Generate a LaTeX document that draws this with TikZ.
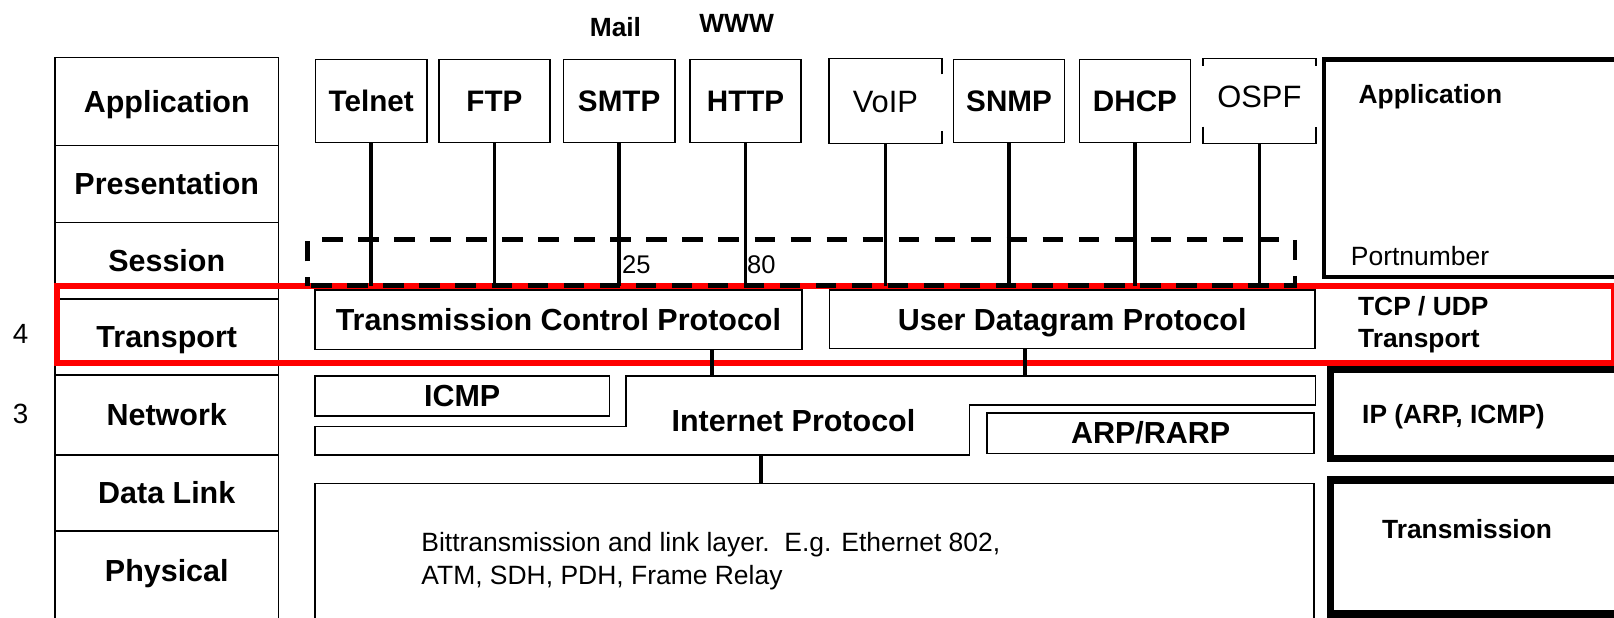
\documentclass[tikz,border=0pt]{standalone}
\usepackage{fontspec}
\setmainfont{Liberation Sans}
\usepackage{tikz}

\newcommand\labfont{\fontsize{14.8pt}{17pt}\selectfont\bfseries}
\newcommand\appfont{\fontsize{14.4pt}{17pt}\selectfont\bfseries}
\newcommand\appthin{\fontsize{15pt}{17pt}\selectfont}
\newcommand\sidefont{\fontsize{12.8pt}{15.7pt}\selectfont\bfseries}
\newcommand\plainfont{\fontsize{12.85pt}{15.7pt}\selectfont}
\newcommand\numfont{\fontsize{12.4pt}{15pt}\selectfont}
\newcommand\layfont{\fontsize{13.5pt}{16pt}\selectfont}

\tikzset{
  boxline/.style={line width=0.8pt},
  osibox/.style={draw, boxline, inner sep=0pt, minimum width=108.45pt,
    font=\labfont, text height=10.6pt, text depth=0pt},
  appbox/.style={draw, boxline, inner sep=0pt, minimum width=54pt,
    minimum height=40.45pt, font=\appfont, text height=10.3pt, text depth=0pt},
  protobox/.style={draw, boxline, inner sep=0pt, font=\labfont,
    text height=10.6pt, text depth=0pt},
  sidebox/.style={draw, inner sep=0pt, minimum width=148.75pt},
  portline/.style={line width=1.75pt},
  joint/.style={line width=2pt},
  txt/.style={inner sep=0pt},
}

\begin{document}
\begin{tikzpicture}[x=0.5pt, y=-0.5pt]
  \useasboundingbox (0,0) rectangle (1568,600);

  % OSI layers
  \node[osibox, minimum height=42.75pt] (app) at (162,98.45) {Application};
  \node[osibox, minimum height=37.4pt] (pres) at (162,178.6) {Presentation};
  \node[osibox, minimum height=37.25pt] (sess) at (162,253.25) {Session};
  \node[osibox, minimum height=36.75pt] (trans) at (162,327.25) {Transport};
  \node[osibox, minimum height=39pt] (net) at (162,403) {Network};
  \node[osibox, minimum height=36.8pt] (dlink) at (162,478.8) {Data Link};
  \node[osibox, minimum height=45.2pt, text depth=6pt] (phys) at (162,560.8) {Physical};

  \node[txt, font=\layfont, anchor=base] (lay4) at (20,333.6) {4};
  \node[txt, font=\layfont, anchor=base] (lay3) at (20,411.3) {3};

  % transport frame
  \draw[red, line width=3pt] (55.5,277.5) rectangle (1568,352.7);

  % application protocols
  \node[txt, font=\sidefont, anchor=base west] (mail) at (572.6,35) {Mail};
  \node[txt, font=\sidefont, anchor=base west] (www) at (679,31.4) {WWW};

  \node[appbox] (telnet) at (360.6,98.15) {Telnet};
  \node[appbox] (ftp) at (480.3,98.15) {FTP};
  \node[appbox] (smtp) at (601.5,98.15) {SMTP};
  \node[appbox] (http) at (724.3,98.15) {HTTP};
  \node[appbox, draw=none, font=\appthin, text height=10.7pt] (voip) at (860.2,98.15) {VoIP};
  \node[appbox] (snmp) at (980.3,98.15) {SNMP};
  \node[appbox] (dhcp) at (1102.6,98.15) {DHCP};
  \node[appbox, draw=none, font=\appthin, text height=10.7pt, text depth=4pt] (ospf) at (1223.5,98.15) {OSPF};

  % broken edges
  \draw[boxline] (voip.north east) ++(0,15.4) -- (voip.north east) -- (voip.north west)
    -- (voip.south west) -- (voip.south east) -- ++(0,-12.4);
  \draw[boxline] (ospf.north west) ++(0,7.2) -- (ospf.north west) -- (ospf.north east) -- ++(0,7.2);
  \draw[boxline] (ospf.south west) ++(0,-16.4) -- (ospf.south west) -- (ospf.south east) -- ++(0,-16.4);

  \coordinate (porttop) at (0,277.5);
  \draw[portline] (telnet.south) -- (telnet.south |- porttop);
  \draw[portline] (ftp.south) -- (ftp.south |- porttop);
  \draw[portline] (smtp.south) -- (smtp.south |- porttop);
  \draw[portline] (http.south) -- (http.south |- porttop);
  \draw[portline] (voip.south) -- (voip.south |- porttop);
  \draw[portline] (snmp.south) -- (snmp.south |- porttop);
  \draw[portline] (dhcp.south) -- (dhcp.south |- porttop);
  \draw[portline] (ospf.south) -- (ospf.south |- porttop);

  \node[txt, font=\numfont, anchor=base west] (p25) at (604,265.6) {25};
  \node[txt, font=\numfont, anchor=base west] (p80) at (725.4,265.6) {80};

  % port numbers
  \draw[line width=2.35pt, dash pattern=on 10pt off 7.5pt, dash phase=5.75pt]
    (299,277.5) -- (299,233) -- (1258,233) -- (1258,277.5) -- cycle;

  % transport
  \node[protobox, minimum width=236.5pt, minimum height=28.85pt] (tcp) at (542.5,310.55)
    {Transmission Control Protocol};
  \node[protobox, minimum width=235.95pt, minimum height=28.35pt] (udp) at (1041.65,310.05)
    {User Datagram Protocol};

  % network
  \node[protobox, minimum width=143pt, minimum height=19.5pt] (icmp) at (449,384.5) {ICMP};
  \draw[boxline] (306,414.5) -- (608,414.5) -- (608,365) -- (1278,365) -- (1278,393.5)
    -- (941.7,393.5) -- (941.7,442) -- (306,442) -- cycle;
  \node[txt, font=\labfont, text height=10.6pt, text depth=0pt] (ip) at (770.8,408.8)
    {Internet Protocol};
  \node[protobox, minimum width=158.8pt, minimum height=19.7pt] (arp) at (1117.8,420.7) {ARP/RARP};

  \coordinate (tcpjoin) at (691.4,365);
  \coordinate (udpjoin) at (995.8,365);
  \draw[joint] (tcp.south -| tcpjoin) -- (tcpjoin);
  \draw[joint] (udp.south -| udpjoin) -- (udpjoin);

  % link layer
  \node[draw, boxline, minimum width=485.3pt, minimum height=71.2pt] (link) at (791.3,540.8) {};
  \node[txt, font=\plainfont, align=left, anchor=north west] (linktxt) at (409,517.2)
    {Bittransmission and link layer.\ \ E.g. Ethernet 802,\\ATM, SDH, PDH, Frame Relay};
  \coordinate (ipfoot) at (739.3,442);
  \draw[joint] (ipfoot) -- (ipfoot |- link.north);

  % right column
  \node[sidebox, line width=2.25pt, minimum width=151.85pt, minimum height=105.7pt]
    (appR) at (1438.15,163.3) {};
  \node[txt, font=\sidefont, anchor=base west] (appRtxt) at (1319.5,101) {Application};
  \node[txt, font=\plainfont, anchor=base west] (portR) at (1312,257.5) {Portnumber};
  \node[txt, font=\sidefont, align=left, anchor=north west] (transR) at (1319,287.3)
    {TCP / UDP\\Transport};
  \node[sidebox, line width=3.25pt, minimum height=43.25pt] (ipR) at (1441.25,402.05) {};
  \node[txt, font=\sidefont, anchor=base west] (ipRtxt) at (1323,411.3) {IP (ARP, ICMP)};
  \node[sidebox, line width=3.5pt, minimum height=65.1pt] (txR) at (1441.25,531.4) {};
  \node[txt, font=\sidefont, anchor=base west] (txRtxt) at (1342.3,523) {Transmission};
\end{tikzpicture}
\end{document}
